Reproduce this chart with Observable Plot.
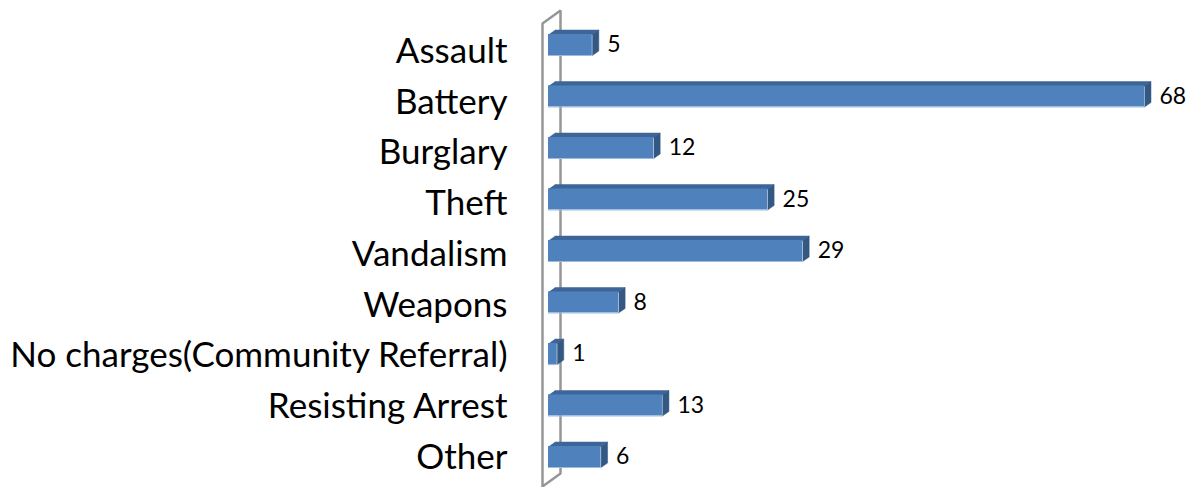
<!DOCTYPE html>
<html>
<head>
<meta charset="utf-8">
<script src="https://cdn.jsdelivr.net/npm/d3@7"></script>
<script src="https://cdn.jsdelivr.net/npm/@observablehq/plot@0.6"></script>
<style>
  html, body { margin: 0; padding: 0; background: #fff; }
  #chart { width: 1194px; height: 487px; }
</style>
</head>
<body>
<div id="chart"></div>
<script>
const categories = ["Assault", "Battery", "Burglary", "Theft", "Vandalism", "Weapons",
  "No charges(Community Referral)", "Resisting Arrest", "Other"];
const counts = [5, 68, 12, 25, 29, 8, 1, 13, 6];

// layout (pixels)
const X0 = 548, X1 = 1144, Y0 = 44.5, Y1 = 456.5;
const kx = (X1 - X0) / 68, ky = (Y1 - Y0) / 8;
const halfH = 10.5 / ky;           // half bar thickness in y units
const ddx = 6.5 / kx, ddy = 4.5 / ky; // 3D depth offsets

const rows = categories.map((c, i) => ({c, i, v: counts[i]}));

const topFaces = rows.flatMap(d => [
  {id: d.i, x: 0, y: d.i - halfH},
  {id: d.i, x: d.v, y: d.i - halfH},
  {id: d.i, x: d.v + ddx, y: d.i - halfH - ddy},
  {id: d.i, x: ddx, y: d.i - halfH - ddy}
]);
const sideFaces = rows.flatMap(d => [
  {id: d.i, x: d.v, y: d.i - halfH},
  {id: d.i, x: d.v + ddx, y: d.i - halfH - ddy},
  {id: d.i, x: d.v + ddx, y: d.i + halfH - ddy},
  {id: d.i, x: d.v, y: d.i + halfH}
]);

// wall outline (side wall of the 3D chart)
const wx0 = -6 / kx, wx1 = 12 / kx;
const wTop = (23 - Y0) / ky, wBot = (486 - Y0) / ky, wDy = 13 / ky;
const wall = [
  {x: wx0, y: wBot}, {x: wx0, y: wTop}, {x: wx1, y: wTop - wDy},
  {x: wx1, y: wBot - wDy}, {x: wx0, y: wBot}
];

const font = "Lato, 'Open Sans', sans-serif";

const chart = Plot.plot({
  width: 1194,
  height: 487,
  marginLeft: 0, marginRight: 0, marginTop: 0, marginBottom: 0,
  style: {fontFamily: font, background: "#fff", color: "#000"},
  x: {domain: [0, 68], range: [X0, X1], axis: null},
  y: {domain: [0, 8], range: [Y0, Y1], axis: null},
  marks: [
    Plot.line(wall, {x: "x", y: "y", stroke: "#969696", strokeWidth: 2.5, strokeLinejoin: "miter"}),
    Plot.line(topFaces, {x: "x", y: "y", z: "id", fill: "#3e6598", stroke: "#3e6598", strokeWidth: 0.5}),
    Plot.line(sideFaces, {x: "x", y: "y", z: "id", fill: "#345884", stroke: "#345884", strokeWidth: 0.5}),
    Plot.rect(rows, {x1: () => 0, x2: "v", y1: d => d.i - halfH, y2: d => d.i + halfH, fill: "#4f81bd"}),
    Plot.ruleY(rows, {x1: () => 0, x2: "v", y: d => d.i + halfH, stroke: "#9dbbe0", strokeWidth: 1.2}),
    Plot.text(rows, {x: () => 0, y: d => d.i * 0.9854 + 0.13, text: "c", textAnchor: "end", dx: -41,
      fontSize: 35, fill: "#000"}),
    Plot.text(rows, {x: "v", y: "i", text: d => String(d.v), textAnchor: "start", dx: 15,
      fontSize: 23, fill: "#000"})
  ]
});
document.getElementById("chart").appendChild(chart);
</script>
</body>
</html>
